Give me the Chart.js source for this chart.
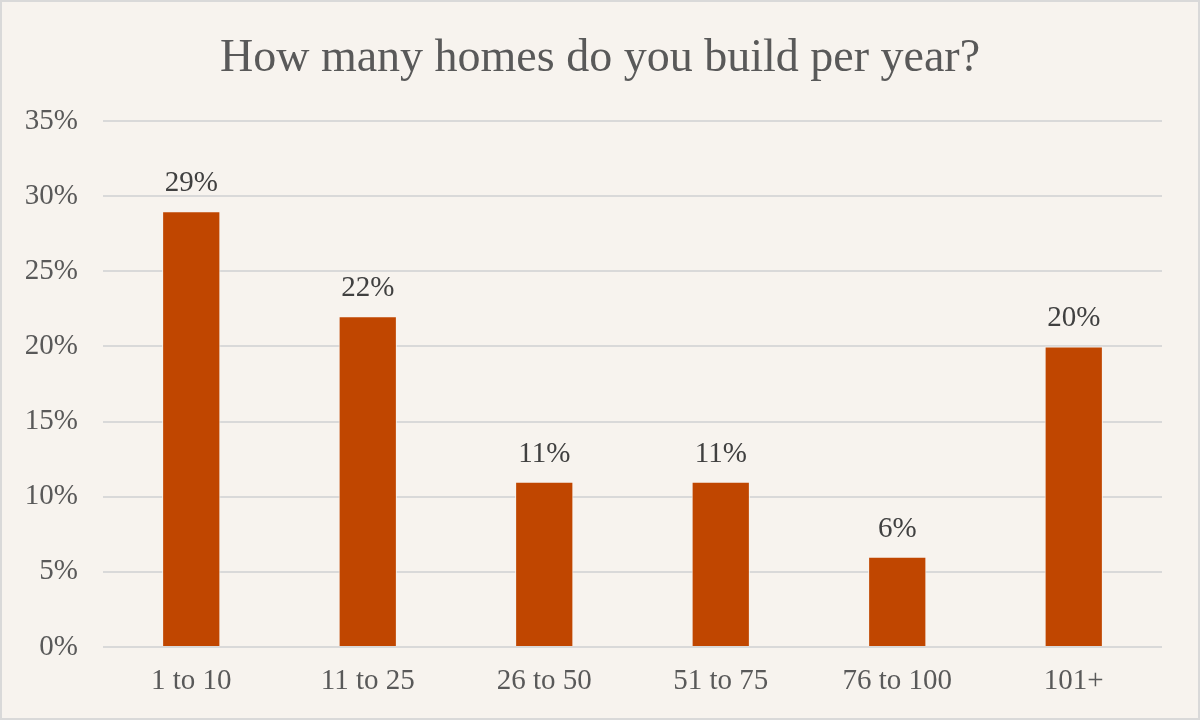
<!DOCTYPE html>
<html>
<head>
<meta charset="utf-8">
<script src="https://cdn.jsdelivr.net/npm/chart.js@4"></script>
<style>
  html, body { margin: 0; padding: 0; background: #f7f3ee; }
  #wrap {
    width: 1200px; height: 720px; box-sizing: border-box;
    border: 2px solid #d9d9d9; background: #f7f3ee;
  }
  canvas { display: block; }
</style>
</head>
<body>
<div id="wrap"><canvas id="chart" width="1196" height="716"></canvas></div>
<script>
const categories = ['1 to 10', '11 to 25', '26 to 50', '51 to 75', '76 to 100', '101+'];
const shares = [29, 22, 11, 11, 6, 20];
const yTicks = [0, 5, 10, 15, 20, 25, 30, 35];
const chartTitle = 'How many homes do you build per year?';

const serif = '"Liberation Serif", "Times New Roman", serif';

// title centred on the whole canvas, plus value labels above bars
const extras = {
  id: 'extras',
  afterDraw(chart) {
    const { ctx } = chart;
    ctx.save();
    ctx.font = '46px ' + serif;
    ctx.fillStyle = '#595959';
    ctx.textAlign = 'center';
    ctx.textBaseline = 'alphabetic';
    ctx.fillText(chartTitle, chart.width / 2, 69);

    ctx.font = '29px ' + serif;
    ctx.fillStyle = '#404040';
    chart.getDatasetMeta(0).data.forEach((bar, i) => {
      ctx.fillText(shares[i] + '%', bar.x, bar.y - 20);
    });
    ctx.restore();
  },
};

new Chart(document.getElementById('chart'), {
  type: 'bar',
  data: {
    labels: categories,
    datasets: [{
      data: shares,
      backgroundColor: '#c04600',
      borderColor: '#f7f3ee',
      borderWidth: 1,
      categoryPercentage: 1,
      barPercentage: 0.33,
    }],
  },
  options: {
    responsive: false,
    animation: false,
    layout: { padding: { left: 0, right: 36, top: 119, bottom: 0 } },
    plugins: {
      legend: { display: false },
      tooltip: { enabled: false },
      title: { display: false },
    },
    scales: {
      x: {
        grid: { display: false, drawTicks: false },
        border: { display: false },
        ticks: {
          color: '#595959',
          font: { family: serif, size: 29 },
          padding: 17,
        },
        afterFit(scale) { scale.height = 71; },
      },
      y: {
        min: 0,
        max: 35,
        afterBuildTicks(scale) {
          scale.ticks = yTicks.map((v) => ({ value: v }));
        },
        grid: { color: '#d9d9d9', lineWidth: 2, drawTicks: false },
        border: { display: false },
        ticks: {
          color: '#595959',
          font: { family: serif, size: 29 },
          padding: 25,
          callback: (v) => v + '%',
        },
        afterFit(scale) { scale.width = 101; },
      },
    },
  },
  plugins: [extras],
});
</script>
</body>
</html>
